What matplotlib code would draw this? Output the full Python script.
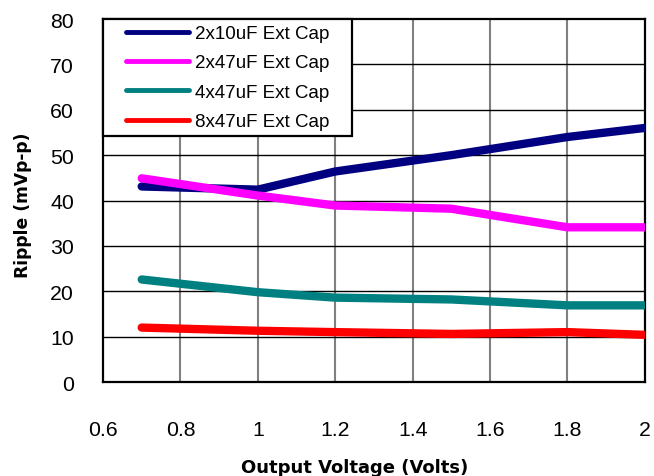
import matplotlib.pyplot as plt
from matplotlib.lines import Line2D
from matplotlib.legend_handler import HandlerLine2D

vout = [0.7, 1.0, 1.2, 1.5, 1.8, 2.0]
cap_2x10 = [43.1, 42.4, 46.4, 50.0, 54.0, 56.0]
cap_2x47 = [44.9, 41.1, 38.9, 38.2, 34.1, 34.1]
cap_4x47 = [22.6, 19.8, 18.6, 18.2, 16.9, 16.9]
cap_8x47 = [12.0, 11.3, 11.0, 10.6, 11.0, 10.4]

labels = ['2x10uF Ext Cap', '2x47uF Ext Cap', '4x47uF Ext Cap', '8x47uF Ext Cap']
colors = ['#000080', '#ff00ff', '#008080', '#ff0000']
series = [cap_2x10, cap_2x47, cap_4x47, cap_8x47]

xticks = [0.6, 0.8, 1.0, 1.2, 1.4, 1.6, 1.8, 2.0]
xticklabels = ['0.6', '0.8', '1', '1.2', '1.4', '1.6', '1.8', '2']
yticks = [0, 10, 20, 30, 40, 50, 60, 70, 80]

plt.rcParams['font.family'] = ['Liberation Sans', 'DejaVu Sans']

fig = plt.figure(figsize=(6.54, 4.77), dpi=100)
ax = fig.add_axes([0.1575, 0.197, 0.8285, 0.761])

for xv in xticks[1:-1]:
    ax.axvline(xv, color='#808080', lw=1.5, zorder=1)
for yv in yticks[1:-1]:
    ax.axhline(yv, color='black', lw=1.0, zorder=1)

for ys, c in zip(series, colors):
    ax.plot(vout, ys, color=c, lw=6, solid_capstyle='round', solid_joinstyle='round', zorder=3)

ax.set_xlim(0.6, 2.0)
ax.set_ylim(0, 80)
ax.set_xticks(xticks)
ax.set_xticklabels(xticklabels)
ax.set_yticks(yticks)
ax.tick_params(axis='both', length=0, labelsize=15.3)
ax.tick_params(axis='x', pad=27)
ax.tick_params(axis='y', pad=21)
for s in ax.spines.values():
    s.set_linewidth(1.6)
    s.set_color('black')

ax.set_xlabel('Output Voltage (Volts)', family='DejaVu Sans',
              fontweight='bold', fontsize=13)
ax.set_ylabel('Ripple (mVp-p)', family='DejaVu Sans',
              fontweight='bold', fontsize=12.3)
ax.xaxis.set_label_coords(0.465, -0.2345, transform=ax.transAxes)
ax.yaxis.set_label_coords(-0.147, 0.49, transform=ax.transAxes)
ax.xaxis.label.set_va('center')
ax.yaxis.label.set_va('center')

handles = [Line2D([0], [0], color=c, lw=3.5, solid_capstyle='round') for c in colors]
leg = ax.legend(handles, labels, loc='upper left', bbox_to_anchor=(0, 1, 0.459, 0),
                mode='expand', borderaxespad=0,
                fancybox=False, framealpha=1, edgecolor='black', fontsize=13.5,
                handlelength=4.29, handletextpad=0.27, labelspacing=0.65,
                borderpad=0.32,
                handler_map={Line2D: HandlerLine2D(xpad=0.88)})
leg.get_frame().set_linewidth(1.6)
leg.set_zorder(5)

fig.savefig('out.png', dpi=100)
